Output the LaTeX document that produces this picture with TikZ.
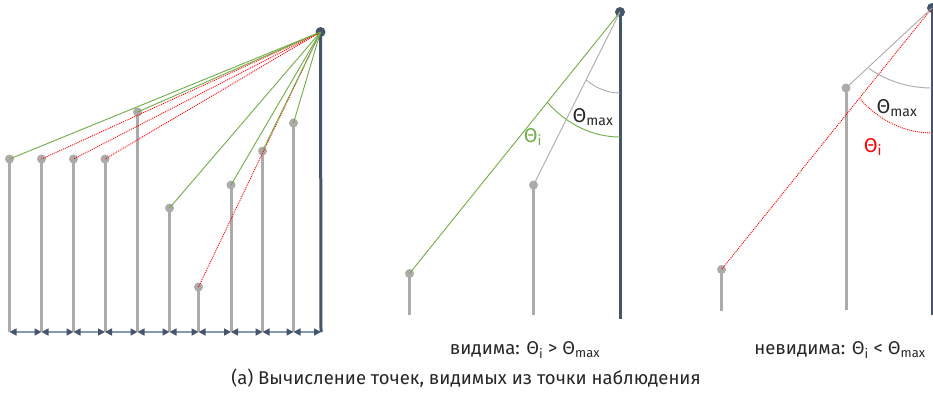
\documentclass[tikz,border=0pt]{standalone}
\usepackage{fontspec}
\setmainfont{Fira Sans}
\usetikzlibrary{arrows.meta}
\definecolor{pole}{HTML}{AEAAAA}
\definecolor{mast}{HTML}{44546A}
\definecolor{gap}{HTML}{8497B0}
\definecolor{sight}{HTML}{70AD47}
\definecolor{hidden}{HTML}{FF0000}
\definecolor{ray}{HTML}{ABABAB}
\definecolor{txt}{HTML}{262626}
\newcommand{\thsub}[1]{Θ\textsubscript{#1}}

\begin{document}
\begin{tikzpicture}[x=1pt,y=-1pt,
   tip/.style={circle,fill=pole,inner sep=0pt,minimum size=9pt},
   eye/.style={circle,fill=mast,inner sep=0pt,minimum size=10pt},
   stem/.style={draw=pole,line width=3pt},
   mastline/.style={draw=mast,line width=3pt},
   vis/.style={draw=sight,line width=0.9pt},
   invis/.style={draw=hidden,line width=0.9pt,dash pattern=on 1pt off 1pt},
   grayray/.style={draw=ray,line width=0.9pt},
   gapline/.style={draw=gap,line width=1.5pt,{Triangle[length=7pt,width=7pt,color=mast]}-{Triangle[length=7pt,width=7pt,color=mast]}},
   lbl/.style={font=\fontsize{20}{24}\selectfont,inner sep=0pt},
   captxt/.style={font=\fontsize{18.5}{22}\selectfont,text=txt,inner sep=0pt}]
\useasboundingbox (0,0) rectangle (933,392);
% left panel: terrain profile
\foreach \i/\px/\py in {1/9.5/159,2/41.5/159,3/73.5/159,4/105/159,5/137.5/112,
                        6/169.5/208,7/198.5/287,8/231/185,9/262.5/151,10/293.5/123}{
  \node[tip] (t\i) at (\px,\py) {};
  \coordinate (b\i) at (\px,332);
  \draw[stem] (t\i.center) -- (b\i);
}
\node[eye] (eyeA) at (320.5,32) {};
\coordinate (b11) at (321,332);
\draw[mastline] (eyeA.center) -- (b11);
% spacing arrows
\foreach \i [evaluate=\i as \j using int(\i+1)] in {1,...,10}
  \draw[gapline] (b\i) -- (b\j);
% sight lines
\draw[vis] (eyeA.center) -- (t1.center);
\draw[invis] (eyeA.center) -- (t2.center);
\draw[invis] (eyeA.center) -- (t3.center);
\draw[invis] (eyeA.center) -- (t4.center);
\draw[vis] (eyeA.center) -- (t5.center);
\draw[vis] (eyeA.center) -- (t6.center);
\draw[invis] (eyeA.center) -- (t7.center);
\draw[vis] (eyeA.center) -- (t8.center);
\draw[vis] (eyeA.center) -- (t9.center);
\draw[vis] (eyeA.center) -- (t10.center);
% middle panel: visible point
\node[tip] (qB1) at (409.5,273.5) {};
\node[tip] (qB2) at (533.5,185) {};
\node[eye] (eyeB) at (620,12) {};
\coordinate (bB1) at (409.5,314.5);
\coordinate (bB2) at (533.5,314.5);
\coordinate (bB3) at (620,319);
\draw[stem] (qB1.center) -- (bB1);
\draw[stem] (qB2.center) -- (bB2);
\draw[mastline] (eyeB.center) -- (bB3);
\draw[vis] (eyeB.center) -- (qB1.center);
\draw[grayray] (eyeB.center) -- (qB2.center);
\draw[grayray] ([yshift=-81pt]eyeB.center) arc[start angle=90,end angle=123,x radius=62,y radius=81];
\draw[vis] ([yshift=-125pt]eyeB.center) arc[start angle=90,end angle=134,x radius=105,y radius=125];
\node[lbl,text=txt] (maxB) at (593,117) {\thsub{max}};
\node[lbl,text=sight] (iB) at (533,137) {\thsub{i}};
% right panel: hidden point
\node[tip] (qC1) at (721.5,269.5) {};
\node[tip] (qC2) at (846,88) {};
\node[eye] (eyeC) at (932,8) {};
\coordinate (bC1) at (721.5,311);
\coordinate (bC2) at (846,310);
\coordinate (bC3) at (932,315);
\draw[stem] (qC1.center) -- (bC1);
\draw[stem] (qC2.center) -- (bC2);
\draw[mastline] (eyeC.center) -- (bC3);
\draw[invis] (eyeC.center) -- (qC1.center);
\draw[grayray] (eyeC.center) -- (qC2.center);
\draw[grayray] ([yshift=-80pt]eyeC.center) arc[start angle=90,end angle=131,x radius=96,y radius=80];
\draw[invis] ([yshift=-125pt]eyeC.center) arc[start angle=90,end angle=133.5,x radius=105,y radius=125];
\node[lbl,text=txt] (maxC) at (897,108) {\thsub{max}};
\node[lbl,text=hidden] (iC) at (873,147) {\thsub{i}};
% captions
\node[captxt] (capB) at (525,350) {видима: \thsub{i} > \thsub{max}};
\node[captxt] (capC) at (840,350) {невидима: \thsub{i} < \thsub{max}};
\node[captxt] (capA) at (466,378) {(а) Вычисление точек, видимых из точки наблюдения};
\end{tikzpicture}
\end{document}
